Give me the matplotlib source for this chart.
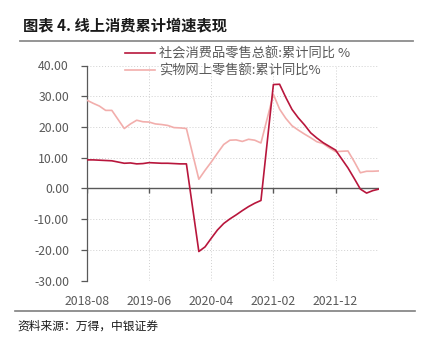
import matplotlib
matplotlib.use("Agg")
import matplotlib.pyplot as plt
import numpy as np
import pandas as pd
from matplotlib.lines import Line2D

plt.rcParams['font.family'] = ['Noto Sans CJK SC', 'DejaVu Sans']

nan = np.nan
months = pd.period_range("2018-08", "2022-07", freq="M").strftime("%Y-%m").tolist()

# 社会消费品零售总额:累计同比 (%), 1月无数据
retail = [9.3, 9.3, 9.2, 9.1, 9.0,
          nan, 8.2, 8.3, 8.0, 8.1, 8.4, 8.3, 8.2, 8.2, 8.1, 8.0, 8.0,
          nan, -20.5, -19.0, -16.2, -13.5, -11.4, -9.9, -8.6, -7.2, -5.9, -4.8, -3.9,
          nan, 33.8, 33.9, 29.6, 25.7, 23.0, 20.7, 18.1, 16.4, 14.9, 13.7, 12.5,
          nan, 6.7, 3.3, -0.2, -1.5, -0.7, -0.2]
# 实物网上零售额:累计同比 (%)
online = [28.7, 27.7, 26.8, 25.4, 25.4,
          nan, 19.5, 21.0, 22.2, 21.7, 21.6, 21.0, 20.8, 20.5, 19.8, 19.7, 19.5,
          nan, 3.0, 5.9, 8.6, 11.5, 14.3, 15.7, 15.8, 15.3, 16.0, 15.7, 14.8,
          nan, 30.6, 25.8, 22.8, 20.4, 19.0, 17.7, 16.5, 15.2, 14.6, 13.2, 12.0,
          nan, 12.2, 8.8, 5.1, 5.6, 5.6, 5.7]

series_names = ["社会消费品零售总额:累计同比 %", "实物网上零售额:累计同比%"]
series_colors = ["#B8163C", "#F2AEAC"]
tick_labels = ["2018-08", "2019-06", "2020-04", "2021-02", "2021-12"]
y_ticks = [-30, -20, -10, 0, 10, 20, 30, 40]

GRAY = "#595959"

fig = plt.figure(figsize=(4.21, 3.41), dpi=100)
ax = fig.add_axes([87 / 421, 1 - 280.7 / 341, (379 - 87) / 421, (280.7 - 65.5) / 341])

x = np.arange(len(months))
handles = []
for vals, name, col in zip([retail, online], series_names, series_colors):
    y = np.array(vals, dtype=float)
    m = ~np.isnan(y)
    ax.plot(x[m], y[m], color=col, lw=1.2, zorder=4 if col == series_colors[0] else 3)
    handles.append(Line2D([], [], color=col, lw=1.2))

tick_pos = [months.index(t) for t in tick_labels]
ax.set_xlim(0, len(months) - 1)
ax.set_ylim(-30, 40)
ax.set_yticks(y_ticks)
ax.set_yticklabels([f"{v:.2f}" for v in y_ticks])
ax.set_xticks(tick_pos)
ax.set_xticklabels(tick_labels)

ax.grid(True, ls=(0, (1, 2)), color="#d0d0d0", lw=0.7)
ax.set_axisbelow(True)
for s in ["top", "right", "bottom"]:
    ax.spines[s].set_visible(False)
ax.spines["left"].set_color(GRAY)
ax.spines["left"].set_linewidth(0.9)
ax.tick_params(axis="y", direction="out", length=4, width=0.9, color=GRAY,
               labelcolor=GRAY, labelsize=8.8, pad=9)
ax.tick_params(axis="x", length=0, labelcolor=GRAY, labelsize=8.8, pad=10)

# zero line with its own tick marks below it
ax.axhline(0, color=GRAY, lw=1.0, zorder=2)
ax.vlines(tick_pos, -1.4, 0, color=GRAY, lw=1.0, zorder=2)

fig.legend(handles, series_names, loc="upper left", bbox_to_anchor=(125 / 421, 1 - 47 / 341),
           frameon=False, fontsize=9.5, labelcolor=GRAY, handlelength=2.3,
           handletextpad=0.3, labelspacing=0.3, borderpad=0, borderaxespad=0)

fig.text(23 / 421, 1 - 25 / 341, "图表 4. 线上消费累计增速表现", fontsize=11,
         fontweight="bold", va="center", ha="left", color="#1a1a1a")
fig.add_artist(Line2D([20 / 421, 413 / 421], [1 - 41 / 341, 1 - 41 / 341], color="#8c8c8c", lw=1.3))
fig.add_artist(Line2D([15 / 421, 415 / 421], [1 - 311 / 341, 1 - 311 / 341], color="#7f7f7f", lw=1.2))
fig.text(17 / 421, 1 - 326 / 341, "资料来源：万得，中银证券", fontsize=8.5, style="italic",
         va="center", ha="left", color="#1a1a1a")

fig.savefig("out.png", dpi=100)
